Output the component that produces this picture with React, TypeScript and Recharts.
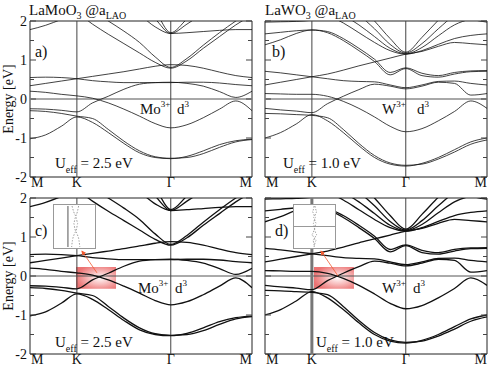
import React from "react"
import { LineChart, Line, XAxis, YAxis, ReferenceLine, ReferenceArea } from "recharts"

// k-path M - K - Γ - M (units of 2π/a)
const kPath = [0, 0.111, 0.222, 0.333, 0.444, 0.556, 0.667, 0.778, 0.889, 1.0, 1.115, 1.231, 1.346, 1.462, 1.577]
const kTicks = [0, 0.333, 1.0, 1.577]
const kLabels = ["M", "K", "Γ", "M"]
const eTicks = [-2, -1.5, -1, -0.5, 0, 0.5, 1, 1.5, 2]

// LaMoO3, Ueff = 2.5 eV (eV)
const moLow1 = [-1.02, -0.92, -0.70, -0.46, -0.60, -0.86, -1.14, -1.38, -1.50, -1.53, -1.47, -1.33, -1.17, -1.07, -1.03]
const moLow2 = [-0.30, -0.32, -0.37, -0.44, -0.50, -0.78, -1.08, -1.33, -1.48, -1.52, -1.50, -1.40, -1.24, -1.10, -1.04]
const moCross = [-0.25, -0.26, -0.29, -0.33, -0.10, 0.07, 0.25, 0.38, 0.42, 0.43, 0.40, 0.33, 0.19, 0.04, 0.20]
const moMid = [0.20, 0.17, 0.12, 0.08, 0.02, -0.10, -0.26, -0.44, -0.63, -0.74, -0.66, -0.48, -0.26, -0.05, -0.30]
const moFlat = [0.55, 0.56, 0.55, 0.52, 0.47, 0.44, 0.42, 0.42, 0.42, 0.42, 0.43, 0.43, 0.41, 0.37, 0.34]
const moUp = [0.34, 0.40, 0.46, 0.52, 0.58, 0.64, 0.70, 0.77, 0.84, 0.88, 0.86, 0.79, 0.69, 0.60, 0.55]
const moPar1 = [2.60, 2.45, 2.30, 2.20, 1.92, 1.66, 1.42, 1.18, 0.94, 0.79, 0.98, 1.30, 1.60, 1.90, 2.15]
const moPar2 = [2.90, 2.75, 2.60, 2.45, 2.25, 2.00, 1.74, 1.45, 1.08, 0.81, 1.04, 1.38, 1.70, 2.00, 2.25]
const moTop = [1.78, 1.89, 2.04, 2.20, 2.35, 2.45, 2.50, 2.45, 2.35, 2.30, 2.35, 2.40, 2.45, 2.50, 2.50]
const moGam1 = [2.60, 2.60, 2.55, 2.50, 2.50, 2.45, 2.35, 2.15, 1.85, 1.68, 1.70, 1.73, 1.76, 1.78, 1.78]
const moGam2 = [2.90, 2.90, 2.85, 2.80, 2.75, 2.70, 2.55, 2.40, 2.05, 1.68, 1.92, 2.20, 2.50, 2.70, 2.80]
const moGam3 = [3.10, 3.10, 3.05, 3.00, 2.95, 2.90, 2.80, 2.60, 2.25, 1.70, 2.05, 2.40, 2.70, 2.90, 3.00]

// LaWO3, Ueff = 1.0 eV (eV)
const wLow1 = [-1.00, -0.86, -0.64, -0.40, -0.56, -0.86, -1.20, -1.50, -1.67, -1.72, -1.65, -1.50, -1.30, -1.10, -1.00]
const wLow2 = [-0.37, -0.38, -0.40, -0.42, -0.48, -0.78, -1.14, -1.45, -1.64, -1.70, -1.67, -1.54, -1.36, -1.16, -1.05]
const wCross = [-0.24, -0.28, -0.31, -0.35, -0.12, 0.07, 0.24, 0.38, 0.33, 0.26, 0.33, 0.43, 0.40, 0.10, 0.14]
const wMid = [0.14, 0.13, 0.12, 0.12, 0.07, -0.06, -0.24, -0.46, -0.70, -0.84, -0.76, -0.56, -0.32, -0.05, -0.24]
const wUp = [0.71, 0.67, 0.62, 0.57, 0.52, 0.47, 0.45, 0.44, 0.36, 0.29, 0.36, 0.45, 0.46, 0.40, 0.36]
const wFlat = [0.36, 0.43, 0.50, 0.57, 0.64, 0.74, 0.85, 0.95, 1.05, 1.15, 1.22, 1.35, 1.45, 1.42, 1.39]
const wDome = [1.67, 1.71, 1.75, 1.77, 1.70, 1.50, 1.24, 0.96, 0.62, 0.78, 0.60, 0.56, 0.64, 0.70, 0.71]
const wTop2 = [1.39, 1.52, 1.68, 1.77, 1.73, 1.55, 1.30, 1.02, 0.68, 0.80, 0.66, 0.60, 0.68, 0.72, 0.73]
const wTop = [1.97, 1.98, 1.99, 2.02, 2.10, 2.20, 2.30, 2.40, 2.45, 2.50, 2.45, 2.35, 2.20, 2.05, 1.97]
const wG1 = [2.60, 2.50, 2.40, 2.30, 2.15, 1.95, 1.70, 1.45, 1.24, 1.15, 1.24, 1.40, 1.55, 1.63, 1.67]
const wG2 = [2.80, 2.70, 2.60, 2.50, 2.35, 2.15, 1.90, 1.60, 1.30, 1.16, 1.32, 1.62, 1.90, 2.05, 2.10]
const wG3 = [3.00, 2.90, 2.80, 2.70, 2.60, 2.40, 2.15, 1.80, 1.40, 1.18, 1.42, 1.80, 2.15, 2.40, 2.50]
const wG4 = [3.20, 3.10, 3.00, 2.90, 2.80, 2.65, 2.40, 2.00, 1.55, 1.20, 1.58, 2.02, 2.40, 2.65, 2.80]

const moBands = [moLow1, moLow2, moCross, moMid, moFlat, moUp, moPar1, moPar2, moTop, moGam1, moGam2, moGam3]
const wBands = [wLow1, wLow2, wCross, wMid, wUp, wFlat, wDome, wTop2, wTop, wG1, wG2, wG3, wG4]

// zoom insets near K (normalised box coords)
const insetE = [1, 0.86, 0.72, 0.58, 0.44, 0.3, 0.16, 0]
const insetC1 = [0.44, 0.48, 0.54, 0.58, 0.55, 0.49, 0.45, 0.43]
const insetC2 = [0.6, 0.57, 0.52, 0.48, 0.51, 0.57, 0.61, 0.63]
const insetD1 = [0.49, 0.45, 0.52, 0.47, 0.5, 0.56, 0.46, 0.5]
const insetD2 = [0.51, 0.56, 0.48, 0.54, 0.5, 0.43, 0.54, 0.49]

const W = 260
const H = 196
const PL = 30
const PR = 252
const PT = 21
const PB = 177
const serif = "'Liberation Serif', 'Times New Roman', 'DejaVu Serif', serif"
const fontStyle = { fontFamily: serif }

const XTick = (p: any) => {
  const i = kTicks.indexOf(p.payload.value)
  const anchor = i === 0 ? "start" : i === kTicks.length - 1 ? "end" : "middle"
  return (
    <text x={p.x + (i === 0 ? 1 : 0)} y={PB + 10} textAnchor={anchor} fontSize={14} style={fontStyle} fill="#111">
      {kLabels[i]}
    </text>
  )
}

const makeYTick = (labels: boolean) => (p: any) => {
  const v = p.payload.value
  const len = Number.isInteger(v) ? 6 : 4
  return (
    <g>
      <line x1={PL} x2={PL + len} y1={p.y} y2={p.y} stroke="#444" />
      <line x1={PR - len} x2={PR} y1={p.y} y2={p.y} stroke="#444" />
      {labels && Number.isInteger(v) && (
        <text x={PL - 3} y={p.y + 4.5} textAnchor="end" fontSize={14} style={fontStyle} fill="#111">
          {v}
        </text>
      )}
    </g>
  )
}

interface PanelProps {
  bands: number[][]
  lineWidth: number
  fermiColor: string
  fermiWidth: number
  kColor: string
  kWidth: number
  yLabels: boolean
  before?: React.ReactNode
  after?: React.ReactNode
}

function BandPanel({ bands, lineWidth, fermiColor, fermiWidth, kColor, kWidth, yLabels, before, after }: PanelProps) {
  const rows = kPath.map((k, i) => {
    const r: Record<string, number> = { k }
    bands.forEach((b, j) => {
      r["b" + j] = b[i]
    })
    return r
  })
  return (
    <LineChart width={W} height={H} data={rows} margin={{ top: PT, right: W - PR, bottom: 0, left: 0 }}>
      {before}
      <XAxis type="number" dataKey="k" domain={[0, 1.577]} ticks={kTicks} interval={0} allowDataOverflow
        axisLine={false} tickLine={false} height={H - PB} tick={XTick} />
      <YAxis type="number" domain={[-2, 2]} ticks={eTicks} interval={0} allowDataOverflow
        axisLine={false} tickLine={false} width={PL} tick={makeYTick(yLabels)} />
      <ReferenceLine y={0} stroke={fermiColor} strokeWidth={fermiWidth} />
      <ReferenceLine x={0.333} stroke={kColor} strokeWidth={kWidth} />
      <ReferenceLine x={1} stroke="#444" strokeWidth={1} />
      {bands.map((_, j) => (
        <Line key={j} dataKey={"b" + j} type="monotone" stroke="#111" strokeWidth={lineWidth}
          dot={false} activeDot={false} isAnimationActive={false} />
      ))}
      {after}
      <ReferenceArea x1={0} x2={1.577} y1={-2} y2={2} fill="none" fillOpacity={0} stroke="#222" strokeWidth={1} />
    </LineChart>
  )
}

const glowDefs = (id: string) => (
  <defs>
    <radialGradient id={"glow" + id} cx="60%" cy="50%" r="62%">
      <stop offset="0%" stopColor="#ffffff" stopOpacity={1} />
      <stop offset="45%" stopColor="#f7b8b8" stopOpacity={0.9} />
      <stop offset="100%" stopColor="#e85a5a" stopOpacity={0.85} />
    </radialGradient>
    <marker id={"arrow" + id} markerWidth="6" markerHeight="6" refX="5" refY="3" orient="auto">
      <path d="M0,0 L6,3 L0,6 z" fill="#f25a30" />
    </marker>
  </defs>
)

function Inset({ left, vLine, hLine, c1, c2 }: { left: number; vLine?: number; hLine?: number; c1: number[]; c2: number[] }) {
  const d1 = insetE.map((e, i) => ({ x: c1[i], e }))
  const d2 = insetE.map((e, i) => ({ x: c2[i], e }))
  return (
    <div style={{ position: "absolute", left, top: 204, width: 41, height: 43, border: "1px solid #999", background: "#fff" }}>
      <LineChart width={41} height={43} margin={{ top: 1, right: 0, bottom: 1, left: 0 }}>
        <XAxis type="number" dataKey="x" domain={[0, 1]} hide />
        <YAxis type="number" domain={[0, 1]} hide />
        {vLine !== undefined && <ReferenceLine x={vLine} stroke="#555" />}
        {hLine !== undefined && <ReferenceLine y={hLine} stroke="#999" />}
        <Line data={d1} dataKey="e" type="monotone" stroke="#888" strokeWidth={0.8} strokeDasharray="1.5 1.5" dot={false} isAnimationActive={false} />
        <Line data={d2} dataKey="e" type="monotone" stroke="#888" strokeWidth={0.8} strokeDasharray="1.5 1.5" dot={false} isAnimationActive={false} />
      </LineChart>
    </div>
  )
}

const Title = ({ x, name }: { x: number; name: string }) => (
  <text x={x} y={15} fontSize={15} style={fontStyle}>
    {name}<tspan fontSize={10} dy={4}>3</tspan>
    <tspan dy={-4}> @a</tspan><tspan fontSize={10} dy={4}>LAO</tspan>
  </text>
)

const Ion = ({ x, dx, y, ion }: { x: number; dx: number; y: number; ion: string }) => (
  <g>
    <text x={x} y={y} fontSize={15} style={fontStyle}>
      {ion}<tspan fontSize={9} dy={-7}>3+</tspan>
    </text>
    <text x={dx} y={y} fontSize={15} style={fontStyle}>
      d<tspan fontSize={9} dy={-7}>3</tspan>
    </text>
  </g>
)

const Ueff = ({ x, y, u }: { x: number; y: number; u: string }) => (
  <text x={x} y={y} fontSize={15} style={fontStyle}>
    U<tspan fontSize={10} dy={5}>eff</tspan><tspan dy={-5}>{" = " + u + " eV"}</tspan>
  </text>
)

export default function App() {
  return (
    <div style={{ position: "absolute", left: 0, top: 0, width: 501, height: 382, background: "#fff", overflow: "hidden", fontFamily: serif }}>
      <div style={{ position: "absolute", left: 0, top: 0 }}>
        <BandPanel bands={moBands} lineWidth={0.8} fermiColor="#a8a8a8" fermiWidth={2} kColor="#444" kWidth={1} yLabels />
      </div>
      <div style={{ position: "absolute", left: 235, top: 0 }}>
        <BandPanel bands={wBands} lineWidth={0.8} fermiColor="#a8a8a8" fermiWidth={2} kColor="#444" kWidth={1} yLabels={false} />
      </div>
      <div style={{ position: "absolute", left: 0, top: 177 }}>
        <BandPanel bands={moBands} lineWidth={1.3} fermiColor="#555" fermiWidth={1} kColor="#444" kWidth={1} yLabels
          before={
            <>
              {glowDefs("C")}
              <ReferenceArea x1={0.327} x2={0.611} y1={-0.33} y2={0.23} fill="url(#glowC)" fillOpacity={1} stroke="none" />
            </>
          }
          after={
            <ReferenceLine segment={[{ x: 0.476, y: 0.08 }, { x: 0.369, y: 0.64 }]} stroke="#f25a30" strokeWidth={0.8} markerEnd="url(#arrowC)" />
          }
        />
      </div>
      <div style={{ position: "absolute", left: 235, top: 177 }}>
        <BandPanel bands={wBands} lineWidth={1.3} fermiColor="#555" fermiWidth={1} kColor="#777" kWidth={3} yLabels={false}
          before={
            <>
              {glowDefs("D")}
              <ReferenceArea x1={0.348} x2={0.632} y1={-0.33} y2={0.23} fill="url(#glowD)" fillOpacity={1} stroke="none" />
            </>
          }
          after={
            <ReferenceLine segment={[{ x: 0.519, y: 0.0 }, { x: 0.398, y: 0.64 }]} stroke="#f25a30" strokeWidth={0.8} markerEnd="url(#arrowD)" />
          }
        />
      </div>
      <Inset left={53} vLine={0.34} c1={insetC1} c2={insetC2} />
      <Inset left={293} hLine={0.5} c1={insetD1} c2={insetD2} />
      <svg width={501} height={382} style={{ position: "absolute", left: 0, top: 0, pointerEvents: "none", fontFamily: serif }}
        fill="#111">
        <Title x={29} name="LaMoO" />
        <Title x={265} name="LaWO" />
        <text transform="translate(13,99) rotate(-90)" textAnchor="middle" fontSize={14} style={fontStyle}>Energy [eV]</text>
        <text transform="translate(13,276) rotate(-90)" textAnchor="middle" fontSize={14} style={fontStyle}>Energy [eV]</text>
        <text x={35} y={57} fontSize={16} style={fontStyle}>a)</text>
        <text x={272} y={57} fontSize={16} style={fontStyle}>b)</text>
        <text x={35} y={236} fontSize={16} style={fontStyle}>c)</text>
        <text x={275} y={236} fontSize={16} style={fontStyle}>d)</text>
        <Ion x={140} dx={177} y={114} ion="Mo" />
        <Ion x={382} dx={417} y={114} ion="W" />
        <Ion x={138} dx={175} y={293} ion="Mo" />
        <Ion x={382} dx={413} y={293} ion="W" />
        <Ueff x={55} y={168} u="2.5" />
        <Ueff x={283} y={168} u="1.0" />
        <Ueff x={55} y={347} u="2.5" />
        <Ueff x={316} y={347} u="1.0" />
      </svg>
    </div>
  )
}
